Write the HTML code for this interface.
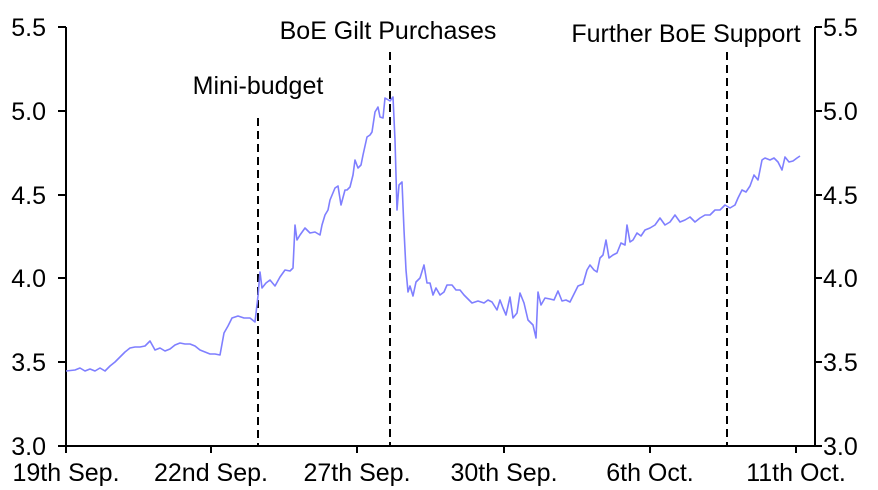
<!DOCTYPE html>
<html><head><style>body{margin:0;background:#fff}svg{display:block;font-family:"Liberation Sans",Arial,sans-serif}</style></head>
<body>
<svg width="878" height="490" viewBox="0 0 878 490">
<g font-size="25" fill="#000">
<text x="46" y="36" text-anchor="end">5.5</text>
<text x="46" y="120" text-anchor="end">5.0</text>
<text x="46" y="204" text-anchor="end">4.5</text>
<text x="46" y="287" text-anchor="end">4.0</text>
<text x="46" y="371" text-anchor="end">3.5</text>
<text x="46" y="455" text-anchor="end">3.0</text>
<text x="823" y="36">5.5</text>
<text x="823" y="120">5.0</text>
<text x="823" y="204">4.5</text>
<text x="823" y="287">4.0</text>
<text x="823" y="371">3.5</text>
<text x="823" y="455">3.0</text>
<text x="66" y="481" text-anchor="middle">19th Sep.</text>
<text x="211" y="481" text-anchor="middle">22nd Sep.</text>
<text x="357" y="481" text-anchor="middle">27th Sep.</text>
<text x="504" y="481" text-anchor="middle">30th Sep.</text>
<text x="650" y="481" text-anchor="middle">6th Oct.</text>
<text x="796" y="481" text-anchor="middle">11th Oct.</text>
<text x="258" y="94" text-anchor="middle">Mini-budget</text>
<text x="388" y="39" text-anchor="middle">BoE Gilt Purchases</text>
<text x="686" y="42" text-anchor="middle">Further BoE Support</text>
</g>
<g stroke="#000" stroke-width="2" fill="none">
<line x1="66" y1="27" x2="66" y2="447"/>
<line x1="815" y1="27" x2="815" y2="447"/>
<line x1="58" y1="446" x2="815" y2="446"/>
<path d="M58 27H66M58 111H66M58 195H66M58 278H66M58 362H66M815 27H822M815 111H822M815 195H822M815 278H822M815 362H822M815 446H822"/>
<path d="M66 446V453M211 446V453M357 446V453M504 446V453M650 446V453M796 446V453"/>
<g stroke-dasharray="8,5">
<line x1="258" y1="118" x2="258" y2="446"/>
<line x1="390" y1="52" x2="390" y2="446"/>
<line x1="727" y1="52" x2="727" y2="446"/>
</g>
</g>
<polyline fill="none" stroke="#7f7fff" stroke-width="1.6" stroke-linejoin="round" points="66,371 75,370 80,368 85,371 90,369 95,371 100,368 105,371 110,366 115,362 120,357 125,352 130,348 135,347 140,347 145,346 150,341 155,350 160,348 165,351 170,349 175,345 180,343 185,344 190,344 195,346 200,350 205,352 210,354 215,354 220,355 224,333 228,326 232,318 238,316 244,318 250,318 255,322 258,296 260,272 262,288 266,283 270,280 275,286 280,277 285,270 290,271 293,268 295,225 297,240 300,235 305,228 310,233 315,232 320,235 322,225 325,215 328,210 330,200 335,188 338,186 341,205 345,190 347,190 350,187 353,175 355,160 358,168 361,165 363,155 367,137 370,135 372,132 375,112 378,107 380,117 383,118 385,98 390,101 393,97 395,140 397,210 399,185 402,182 404,230 406,270 408,292 410,286 413,296 416,282 420,278 424,265 427,283 430,283 433,295 436,288 440,295 444,292 447,285 452,285 456,290 460,290 464,295 468,299 472,303 478,301 484,303 488,300 492,302 497,310 500,300 503,308 506,315 510,297 513,318 517,313 520,293 524,303 528,320 533,325 536,338 538,292 541,305 545,298 550,299 554,300 558,291 562,301 566,300 570,302 574,294 578,286 583,284 587,270 590,265 594,270 597,272 600,258 603,255 606,240 609,258 613,255 617,253 621,243 625,245 627,225 630,242 633,240 637,233 641,236 645,230 650,228 655,225 660,218 665,225 670,222 675,215 680,222 685,220 690,217 695,222 700,218 705,215 710,215 715,210 720,210 725,205 730,208 735,205 738,198 742,190 746,192 750,186 754,175 758,180 762,160 765,158 770,160 774,158 778,162 782,170 785,157 789,162 793,161 797,158 800,156"/>
</svg>
</body></html>
